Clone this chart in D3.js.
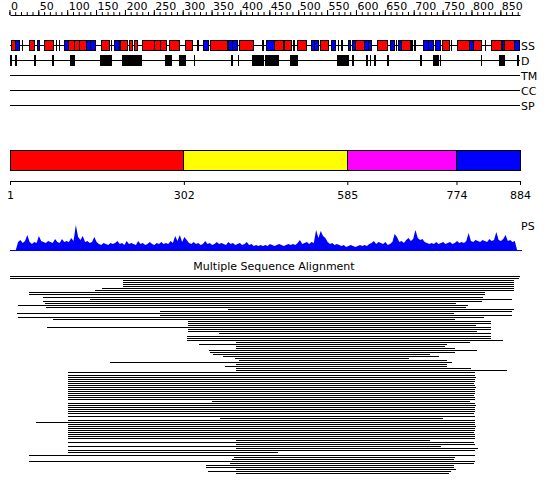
<!DOCTYPE html>
<html lang="en">
<head>
  <meta charset="UTF-8" />
  <title>Sequence feature overview</title>
  <script src="https://d3js.org/d3.v7.min.js"></script>
  <style>
    body { margin: 0; background: #fff; }
    svg { display: block; }
    text { font-family: "DejaVu Sans", sans-serif; font-size: 11px; fill: #000; }
  </style>
</head>
<body>
  <div id="chart"></div>

  <script>
    const seqLength = 884;
    const rulerTicks = d3.range(0, 851, 50);
    const rulerMinor = d3.range(0, 881, 10);

    // secondary structure (residue ranges)
    const ssHelix = [[3,11],[22,23],[34,43],[60,76],[81,82],[86,87],[103,113],[113,122],[122,133],
      [159,174],[176,177],[193,205],[208,213],[216,222],[231,252],[252,262],[262,272],[278,294],
      [304,317],[326,327],[349,378],[398,423],[439,440],[459,474],[477,488],[498,515],[538,552],
      [569,570],[575,576],[600,614],[638,655],[670,671],[678,694],[697,698],[702,703],[750,762],
      [765,766],[776,797],[803,818],[824,825],[835,852],[858,874]];
    const ssStrand = [[11,17],[49,52],[95,103],[133,140],[140,149],[182,191],[336,344],[380,387],
      [387,395],[445,459],[491,494],[523,529],[529,535],[558,564],[587,591],[594,600],[614,621],
      [621,627],[659,666],[673,678],[717,725],[725,734],[737,747],[797,803],[854,858],[874,883]];
    // disorder
    const disorder = [[2,3],[11,12],[44,45],[75,76],[106,107],[110,113],[157,176],[195,229],[271,280],
      [295,305],[320,321],[385,386],[396,397],[420,440],[443,450],[452,466],[486,498],[568,587],
      [594,595],[619,620],[625,626],[632,634],[655,656],[712,713],[734,743],[746,747],[817,818],
      [849,857],[880,881]];
    const trackNames = ["SS", "D", "TM", "CC", "SP"];

    // domain boundaries
    const domainBounds = [1, 302, 585, 774, 884];
    const domainColors = ["#ff0000", "#ffff00", "#ff00ff", "#0000ff"];

    // PS profile, one value per 4 residues
    const psStep = 4;
    const psScores = [
      0,0,0,8,10,7,9,15,8,6, 8,7,14,9,8,7,9,8,7,11, 8,7,11,8,9,8,12,9,25,13,
      10,14,8,9,7,8,13,8,6,5, 7,6,5,7,6,7,9,6,7,5, 9,6,7,6,5,9,6,7,5,6,
      8,6,5,7,6,8,6,7,6,9, 7,14,9,15,8,13,10,7,6,8, 6,7,5,6,9,6,7,5,6,8,
      6,7,6,5,8,6,7,5,6,7, 5,6,8,5,6,4,5,4,5,4, 5,4,6,5,4,5,6,5,4,5,
      6,5,6,5,7,10,6,7,8,6, 8,7,20,12,19,14,12,8,6,7, 5,6,5,4,5,3,4,5,4,3,
      4,5,4,5,4,6,7,9,6,8, 7,6,8,5,6,8,16,13,8,9, 7,10,12,9,11,20,12,10,11,8,
      7,6,7,6,8,6,7,8,6,7, 8,6,7,9,7,8,7,9,17,9, 8,10,9,8,10,9,8,11,9,10,
      18,10,9,11,15,9,10,8,9,0,0];

    // multiple sequence alignment: aligned start / end residue per hit
    const msaStart = [1,1,197,197,197,197,160,148,34,34, 58,140,58,62,15,63,379,261,13,261,
      14,76,310,310,310,65,310,310,363,307, 307,307,392,329,392,392,346,347,353,369,
      391,398,175,392,374,392,392,102,102,102, 102,102,102,102,102,102,102,102,102,102,
      102,350,102,102,102,102,102,102,102,365, 102,46,102,102,102,102,102,102,102,102,
      392,102,392,102,392,102,101,34,388,385, 34,382,340,341,392,343,392];
    const msaEnd = [884,883,874,874,874,874,874,874,823,823, 820,870,819,774,794,790,874,870,770,870,
      822,772,833,833,808,833,833,809,833,833, 833,855,797,757,754,772,809,771,728,743,
      691,757,766,757,757,799,861,806,806,807, 806,806,805,806,807,806,806,806,805,806,
      806,797,806,807,806,806,806,805,806,751, 806,806,806,807,806,806,805,806,806,806,
      729,804,806,747,812,806,465,806,771,770, 806,804,769,769,774,765,761];

    const width = 550, height = 495;
    const svg = d3.create("svg")
      .attr("width", width)
      .attr("height", height)
      .attr("viewBox", [0, 0, width, height]);

    const x = d3.scaleLinear().domain([1, seqLength]).range([10, 520]);

    // ruler
    const ruler = svg.append("g").attr("transform", "translate(0,15)");
    ruler.call(d3.axisTop(x).tickValues(rulerMinor).tickSize(3).tickSizeOuter(0).tickFormat(""));
    ruler.append("g")
      .call(d3.axisTop(x).tickValues(rulerTicks).tickSize(5).tickSizeOuter(0).tickPadding(0))
      .call(g => g.select(".domain").remove())
      .selectAll("text").attr("text-anchor", "start").attr("x", 1);
    ruler.selectAll("line, path").attr("stroke", "#000");

    // feature tracks
    const trackY = d3.scalePoint().domain(trackNames).range([45, 105]);
    const tracks = svg.append("g");
    tracks.selectAll("line")
      .data(trackNames)
      .join("line")
      .attr("x1", x(1)).attr("x2", x(seqLength))
      .attr("y1", d => trackY(d) + 0.5).attr("y2", d => trackY(d) + 0.5)
      .attr("stroke", "#000");
    tracks.selectAll("text")
      .data(trackNames)
      .join("text")
      .attr("x", x(seqLength) + 1)
      .attr("y", d => trackY(d) + 1)
      .attr("dy", "0.35em")
      .text(d => d);

    const ssData = ssHelix.map(d => ({ s: d[0], e: d[1], c: "#ff0000" }))
      .concat(ssStrand.map(d => ({ s: d[0], e: d[1], c: "#0000ff" })));
    svg.append("g")
      .attr("shape-rendering", "crispEdges")
      .selectAll("rect")
      .data(ssData)
      .join("rect")
      .attr("x", d => x(d.s))
      .attr("width", d => x(d.e) - x(d.s))
      .attr("y", trackY("SS") - 5)
      .attr("height", 10)
      .attr("fill", d => d.c)
      .attr("stroke", "#000");

    svg.append("g")
      .attr("shape-rendering", "crispEdges")
      .selectAll("rect")
      .data(disorder)
      .join("rect")
      .attr("x", d => x(d[0]))
      .attr("width", d => x(d[1]) - x(d[0]))
      .attr("y", trackY("D") - 5)
      .attr("height", 10)
      .attr("fill", "#000")
      .attr("stroke", "#000");

    // domain bar
    svg.append("g")
      .attr("shape-rendering", "crispEdges")
      .selectAll("rect")
      .data(d3.pairs(domainBounds))
      .join("rect")
      .attr("x", d => x(d[0]))
      .attr("width", d => x(d[1]) - x(d[0]))
      .attr("y", 150)
      .attr("height", 20)
      .attr("fill", (d, i) => domainColors[i])
      .attr("stroke", "#000");

    svg.append("g")
      .attr("transform", "translate(0,181)")
      .call(d3.axisBottom(x).tickValues(domainBounds).tickSize(4).tickSizeOuter(0).tickPadding(6))
      .call(g => g.selectAll("line, path").attr("stroke", "#000"));

    // PS profile
    const psY = d3.scaleLinear().domain([0, 30]).range([250, 220]);
    const psX = (d, i) => x(1 + i * psStep + psStep / 2);
    svg.append("path")
      .datum(psScores)
      .attr("fill", "#0000ff")
      .attr("d", d3.area().x(psX).y0(psY(0)).y1(d => psY(d)));
    svg.append("line")
      .attr("x1", x(1)).attr("x2", x(seqLength) + 2)
      .attr("y1", psY(0) + 0.5).attr("y2", psY(0) + 0.5)
      .attr("stroke", "#0000ff");
    svg.append("text")
      .attr("x", x(seqLength) + 1)
      .attr("y", psY(24))
      .attr("dy", "0.35em")
      .text("PS");

    // alignment
    svg.append("text")
      .attr("x", 274)
      .attr("y", 270)
      .attr("text-anchor", "middle")
      .text("Multiple Sequence Alignment");

    const rowY = d3.scalePoint().domain(d3.range(msaStart.length)).range([276, 473]);
    svg.append("g")
      .attr("shape-rendering", "crispEdges")
      .selectAll("rect")
      .data(msaStart)
      .join("rect")
      .attr("x", d => x(d))
      .attr("width", (d, i) => x(msaEnd[i]) - x(d))
      .attr("y", (d, i) => Math.round(rowY(i)))
      .attr("height", 1)
      .attr("fill", "#000");

    document.getElementById("chart").appendChild(svg.node());
  </script>
</body>
</html>
